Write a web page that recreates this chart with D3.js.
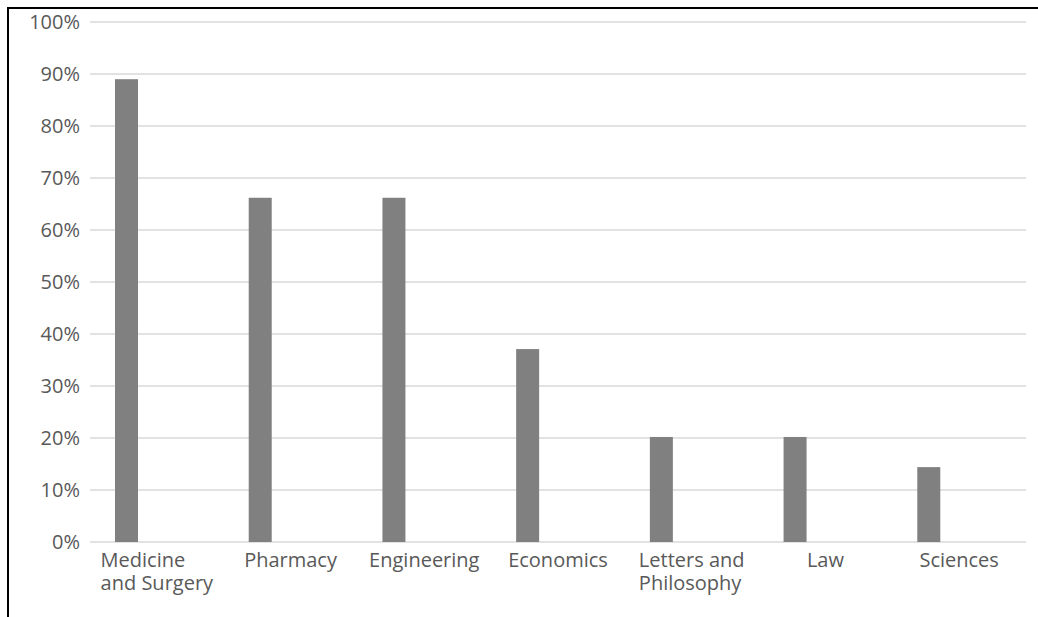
<!DOCTYPE html>
<html>
<head>
<meta charset="utf-8">
<script src="https://cdn.jsdelivr.net/npm/d3@7"></script>
<style>
  body { margin: 0; background: #fff; }
  svg { display: block; }
</style>
</head>
<body>
<svg id="chart" width="1038" height="617"></svg>
<script>
let categories = [
    ["Medicine", "and Surgery"],
    ["Pharmacy"],
    ["Engineering"],
    ["Economics"],
    ["Letters and", "Philosophy"],
    ["Law"],
    ["Sciences"]
];
let values = [0.89, 0.662, 0.662, 0.371, 0.202, 0.202, 0.144];
let yTicks = [0, 0.1, 0.2, 0.3, 0.4, 0.5, 0.6, 0.7, 0.8, 0.9, 1.0];

let svg = d3.select("#chart");
let plotLeft = 90, plotRight = 1026, plotTop = 22, plotBottom = 542;
let font = "'Open Sans', sans-serif";

// frame (left + top edge)
svg.append("path")
    .attr("d", "M8,617 L8,8 L1038,8")
    .attr("fill", "none")
    .attr("stroke", "#000")
    .attr("stroke-width", 2);

let x = d3.scaleBand()
    .domain(d3.range(categories.length))
    .range([plotLeft, plotRight])
    .paddingInner(0).paddingOuter(0);

let y = d3.scaleLinear().domain([0, 1]).range([plotBottom, plotTop]);

// gridlines
svg.append("g").selectAll("line")
    .data(yTicks).enter().append("line")
    .attr("x1", plotLeft)
    .attr("x2", plotRight)
    .attr("y1", d => y(d))
    .attr("y2", d => y(d))
    .attr("stroke", "#d9d9d9")
    .attr("stroke-width", 1.5);

// y labels
svg.append("g").selectAll("text")
    .data(yTicks).enter().append("text")
    .attr("x", 80)
    .attr("y", d => y(d))
    .attr("dy", "0.35em")
    .attr("text-anchor", "end")
    .attr("font-family", font)
    .attr("font-size", 20)
    .attr("fill", "#595959")
    .text(d => d3.format(".0%")(d));

// bars sit in left part of each band
let bw = x.bandwidth();
svg.append("g").selectAll("rect")
    .data(values).enter().append("rect")
    .attr("x", (d, i) => x(i) + bw * 0.187)
    .attr("width", bw * 0.172)
    .attr("y", d => y(d))
    .attr("height", d => y(0) - y(d))
    .attr("fill", "#808080");

// category labels, block centered, lines left aligned
let labels = svg.append("g").selectAll("text")
    .data(categories).enter().append("text")
    .attr("font-family", font)
    .attr("font-size", 20)
    .attr("fill", "#595959");

labels.each(function(lines, i) {
    let t = d3.select(this);
    lines.forEach((l, j) => {
        t.append("tspan").attr("y", 567 + j * 23).text(l);
    });
    let maxW = 0;
    t.selectAll("tspan").each(function() {
        maxW = Math.max(maxW, this.getComputedTextLength());
    });
    let cx = x(i) + bw / 2;
    t.selectAll("tspan").attr("x", cx - maxW / 2);
});
</script>
</body>
</html>
